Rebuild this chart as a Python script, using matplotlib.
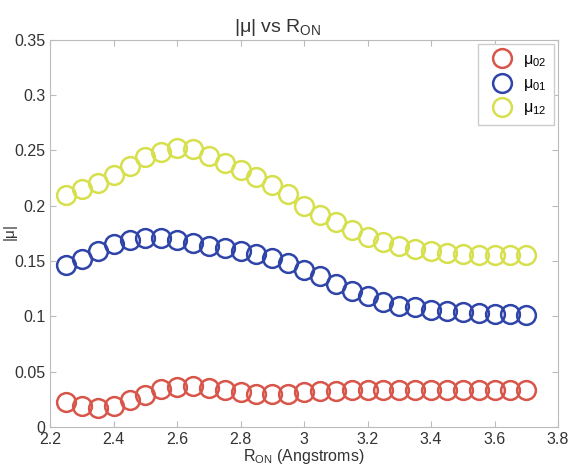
import matplotlib
matplotlib.use("Agg")
import matplotlib.pyplot as plt

plt.rcParams.update({"font.family": ["Liberation Sans", "DejaVu Sans"],
                     "mathtext.fontset": "custom",
                     "mathtext.rm": "Liberation Sans",
                     "mathtext.it": "Liberation Sans",
                     "xtick.direction": "in", "ytick.direction": "in",
                     "xtick.top": True, "ytick.right": True})

r_on = [2.25, 2.30, 2.35, 2.40, 2.45, 2.50, 2.55, 2.60, 2.65, 2.70,
        2.75, 2.80, 2.85, 2.90, 2.95, 3.00, 3.05, 3.10, 3.15, 3.20,
        3.25, 3.30, 3.35, 3.40, 3.45, 3.50, 3.55, 3.60, 3.65, 3.70]
mu02 = [0.022, 0.019, 0.017, 0.019, 0.024, 0.029, 0.034, 0.036, 0.037, 0.035,
        0.033, 0.031, 0.030, 0.030, 0.030, 0.031, 0.032, 0.032, 0.033, 0.033,
        0.033, 0.033, 0.033, 0.033, 0.033, 0.033, 0.033, 0.033, 0.033, 0.033]
mu01 = [0.146, 0.152, 0.159, 0.165, 0.169, 0.171, 0.171, 0.169, 0.166, 0.164,
        0.162, 0.159, 0.156, 0.153, 0.148, 0.142, 0.136, 0.129, 0.123, 0.118,
        0.113, 0.109, 0.108, 0.106, 0.105, 0.104, 0.103, 0.102, 0.102, 0.101]
mu12 = [0.210, 0.215, 0.221, 0.228, 0.236, 0.244, 0.249, 0.252, 0.251, 0.245,
        0.239, 0.232, 0.226, 0.219, 0.211, 0.200, 0.192, 0.185, 0.178, 0.172,
        0.167, 0.164, 0.161, 0.159, 0.157, 0.156, 0.155, 0.155, 0.155, 0.155]

xticks = [2.2, 2.4, 2.6, 2.8, 3.0, 3.2, 3.4, 3.6, 3.8]
xticklabels = ["2.2", "2.4", "2.6", "2.8", "3", "3.2", "3.4", "3.6", "3.8"]
yticks = [0, 0.05, 0.1, 0.15, 0.2, 0.25, 0.3, 0.35]
yticklabels = ["0", "0.05", "0.1", "0.15", "0.2", "0.25", "0.3", "0.35"]

fig = plt.figure(figsize=(5.7, 4.7), dpi=100)
ax = fig.add_axes([0.088, 0.092, 0.891, 0.823])

style = dict(linestyle="none", marker="o", markersize=13.5, markerfacecolor="none",
             markeredgewidth=1.8)
ax.plot(r_on, mu02, color="#d8554a", label=r"$\mathregular{\mu_{02}}$", **style)
ax.plot(r_on, mu01, color="#2f44a8", label=r"$\mathregular{\mu_{01}}$", **style)
ax.plot(r_on, mu12, color="#d6e04c", label=r"$\mathregular{\mu_{12}}$", **style)

ax.set_xlim(2.2, 3.8)
ax.set_ylim(0, 0.35)
ax.set_xticks(xticks)
ax.set_xticklabels(xticklabels)
ax.set_yticks(yticks)
ax.set_yticklabels(yticklabels)
ax.tick_params(labelsize=11.5, colors="#bbbbbb", labelcolor="#333333", length=4)
for s in ax.spines.values():
    s.set_color("#bbbbbb")

ax.set_xlabel(r"$\mathregular{R_{ON}}$ (Angstroms)", fontsize=11.5, color="#333333", labelpad=0)
ax.set_ylabel(r"$\mathregular{|\mu|}$", fontsize=11, color="#333333")
ax.yaxis.set_label_coords(-0.06, 0.5)
ax.set_title(r"$\mathregular{|\mu|}$ vs $\mathregular{R_{ON}}$", fontsize=14,
             color="#333333", pad=6, x=0.447)

leg = ax.legend(loc="upper right", fontsize=11.5, handletextpad=0.3, borderpad=0.5,
                borderaxespad=0.25, fancybox=False, framealpha=1, labelspacing=0.45)
leg.get_frame().set_edgecolor("#cccccc")

fig.savefig("out.png", dpi=100)
